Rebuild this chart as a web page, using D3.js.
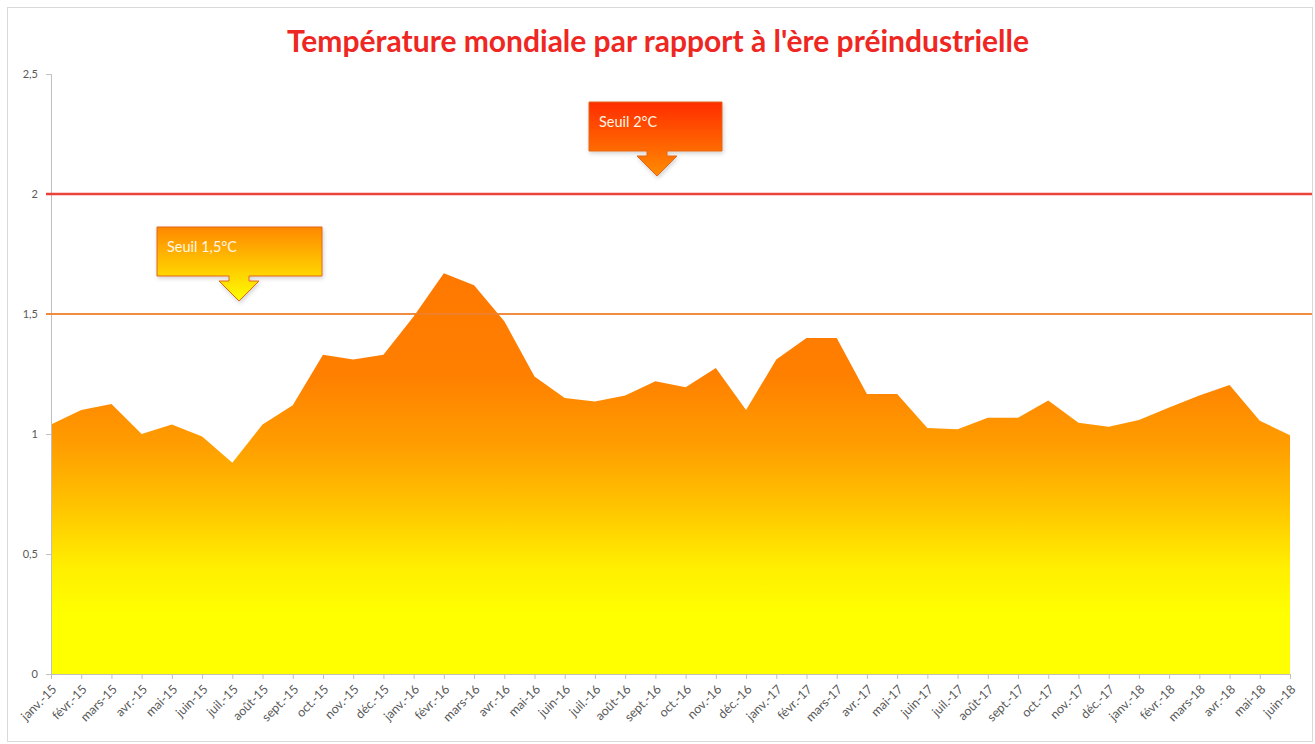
<!DOCTYPE html>
<html>
<head>
<meta charset="utf-8">
<script src="https://cdn.jsdelivr.net/npm/d3@7"></script>
<style>
  body { margin: 0; background: #fff; }
  text { font-family: Lato, "Open Sans", sans-serif; }
</style>
</head>
<body>
<div id="chart"></div>
<script>
// categories (month labels, Excel "mmm-yy" in French)
var months = ["janv.-15", "févr.-15", "mars-15", "avr.-15", "mai-15", "juin-15", "juil.-15", "août-15", "sept.-15", "oct.-15", "nov.-15", "déc.-15",
              "janv.-16", "févr.-16", "mars-16", "avr.-16", "mai-16", "juin-16", "juil.-16", "août-16", "sept.-16", "oct.-16", "nov.-16", "déc.-16",
              "janv.-17", "févr.-17", "mars-17", "avr.-17", "mai-17", "juin-17", "juil.-17", "août-17", "sept.-17", "oct.-17", "nov.-17", "déc.-17",
              "janv.-18", "févr.-18", "mars-18", "avr.-18", "mai-18", "juin-18"];

// temperature anomaly vs preindustrial (°C)
var anomaly = [1.04, 1.10, 1.125, 1.00, 1.04, 0.99, 0.88, 1.04, 1.12, 1.33, 1.31, 1.33,
               1.49, 1.67, 1.62, 1.47, 1.24, 1.15, 1.135, 1.16, 1.22, 1.195, 1.275, 1.10,
               1.31, 1.40, 1.40, 1.167, 1.167, 1.025, 1.02, 1.068, 1.068, 1.14, 1.047, 1.03,
               1.058, 1.11, 1.16, 1.204, 1.055, 0.995];

var yTicks = [0, 0.5, 1, 1.5, 2, 2.5];

var thresholds = [2, 1.5];
var thresholdLabels = ["Seuil 2°C", "Seuil 1,5°C"];

var title = "Température mondiale par rapport à l'ère préindustrielle";

var w = 1315, h = 744;

var svg = d3.select("#chart")
    .append("svg")
    .attr("width", w)
    .attr("height", h);

var defs = svg.append("defs");

// chart frame
svg.append("rect")
    .attr("x", 7.5).attr("y", 7.5)
    .attr("width", 1305).attr("height", 734)
    .attr("fill", "#fff")
    .attr("stroke", "#d9d9d9");

var x = d3.scalePoint()
    .domain(months)
    .range([51, 1290]);

var y = d3.scaleLinear()
    .domain([0, 2.5])
    .range([674, 74]);

var frLocale = d3.formatLocale({decimal: ",", thousands: " ", grouping: [3], currency: ["", " €"]});
var fmt = frLocale.format("~g");

// vertical gradient for the area: orange on top, yellow at the bottom
var areaGrad = defs.append("linearGradient")
    .attr("id", "areaGrad")
    .attr("gradientUnits", "userSpaceOnUse")
    .attr("x1", 0).attr("x2", 0)
    .attr("y1", y(1.7)).attr("y2", y(0));
var areaStops = [[1.7, "#ff7800"], [1.25, "#ff7f00"], [0.95, "#ff9e00"], [0.7, "#ffc400"], [0.45, "#ffee00"], [0.25, "#ffff00"], [0, "#ffff00"]];
areaStops.forEach(function(s) {
  areaGrad.append("stop")
      .attr("offset", (y(s[0]) - y(1.7)) / (y(0) - y(1.7)))
      .attr("stop-color", s[1]);
});

var area = d3.area()
    .x(function(d, i) { return x(months[i]); })
    .y0(y(0))
    .y1(function(d) { return y(d); });

svg.append("path")
    .datum(anomaly)
    .attr("d", area)
    .attr("fill", "url(#areaGrad)");

// y axis
var yAxis = d3.axisLeft(y)
    .tickValues(yTicks)
    .tickSize(5)
    .tickPadding(8)
    .tickFormat(fmt);

var gy = svg.append("g")
    .attr("transform", "translate(51,0)")
    .call(yAxis);
gy.select(".domain").attr("stroke", "#bfbfbf");
gy.selectAll(".tick line").attr("stroke", "#bfbfbf");
gy.selectAll(".tick text")
    .attr("fill", "#595959")
    .style("font-size", "11px")
    .style("font-family", "Lato, sans-serif");

// x axis
var xAxis = d3.axisBottom(x)
    .tickSize(5)
    .tickSizeOuter(0);

var gx = svg.append("g")
    .attr("transform", "translate(0," + y(0) + ")")
    .call(xAxis);
gx.select(".domain").attr("stroke", "#bfbfbf");
gx.selectAll(".tick line").attr("stroke", "#bfbfbf");
gx.selectAll(".tick text")
    .attr("fill", "#595959")
    .style("font-size", "12.5px")
    .style("font-family", "Lato, sans-serif")
    .attr("text-anchor", "end")
    .attr("dy", null)
    .attr("y", 0)
    .attr("transform", "translate(6,16) rotate(-45)");

// threshold lines
var lineColors = ["#e8302a", "#f0802c"];
svg.selectAll(".threshold")
    .data(thresholds)
    .enter()
    .append("line")
    .attr("class", "threshold")
    .attr("x1", 46)
    .attr("x2", 1312)
    .attr("y1", function(d) { return y(d); })
    .attr("y2", function(d) { return y(d); })
    .attr("stroke", function(d, i) { return lineColors[i]; })
    .attr("stroke-width", function(d, i) { return i == 0 ? 2.5 : 2; })
    .attr("stroke-opacity", 0.9);

// callouts (box + down arrow), one per threshold
var calloutGrads = [["#ff2c00", "#ff8c00"], ["#ff8800", "#ffff00"]];
var calloutPos = [{left: 589, tip: 657, gap: 18, bw: 133}, {left: 157, tip: 239, gap: 13, bw: 165}];

var shadow = defs.append("filter").attr("id", "shadow")
    .attr("x", "-10%").attr("y", "-10%").attr("width", "130%").attr("height", "140%");
shadow.append("feDropShadow")
    .attr("dx", 1).attr("dy", 2).attr("stdDeviation", 2)
    .attr("flood-color", "#000").attr("flood-opacity", 0.18);

thresholds.forEach(function(t, i) {
  var p = calloutPos[i];
  var tipY = y(t) - p.gap;
  var bh = 49;               // box height
  var shaftH = 5, headH = 20, shaftW = 20, headW = 40;
  var boxBottom = tipY - headH - shaftH;
  var boxTop = boxBottom - bh;

  var g = defs.append("linearGradient")
      .attr("id", "callGrad" + i)
      .attr("gradientUnits", "userSpaceOnUse")
      .attr("x1", 0).attr("x2", 0)
      .attr("y1", boxTop).attr("y2", tipY);
  g.append("stop").attr("offset", 0).attr("stop-color", calloutGrads[i][0]);
  g.append("stop").attr("offset", 1).attr("stop-color", calloutGrads[i][1]);

  var pts = [
    [p.left, boxTop], [p.left + p.bw, boxTop], [p.left + p.bw, boxBottom],
    [p.tip + shaftW / 2, boxBottom], [p.tip + shaftW / 2, boxBottom + shaftH],
    [p.tip + headW / 2, boxBottom + shaftH], [p.tip, tipY],
    [p.tip - headW / 2, boxBottom + shaftH], [p.tip - shaftW / 2, boxBottom + shaftH],
    [p.tip - shaftW / 2, boxBottom], [p.left, boxBottom]
  ];

  svg.append("path")
      .attr("d", d3.line()(pts) + "Z")
      .attr("fill", "url(#callGrad" + i + ")")
      .attr("stroke", "#e2661c")
      .attr("stroke-width", 1)
      .attr("filter", "url(#shadow)");

  svg.append("text")
      .attr("x", p.left + 10)
      .attr("y", boxTop + 25)
      .attr("fill", "#fff6e6")
      .style("font-size", "14.5px")
      .text(thresholdLabels[i]);
});

// title
svg.append("text")
    .attr("x", 658)
    .attr("y", 52)
    .attr("text-anchor", "middle")
    .attr("fill", "#ee2722")
    .style("font-size", "30px")
    .style("font-weight", "bold")
    .text(title);
</script>
</body>
</html>
